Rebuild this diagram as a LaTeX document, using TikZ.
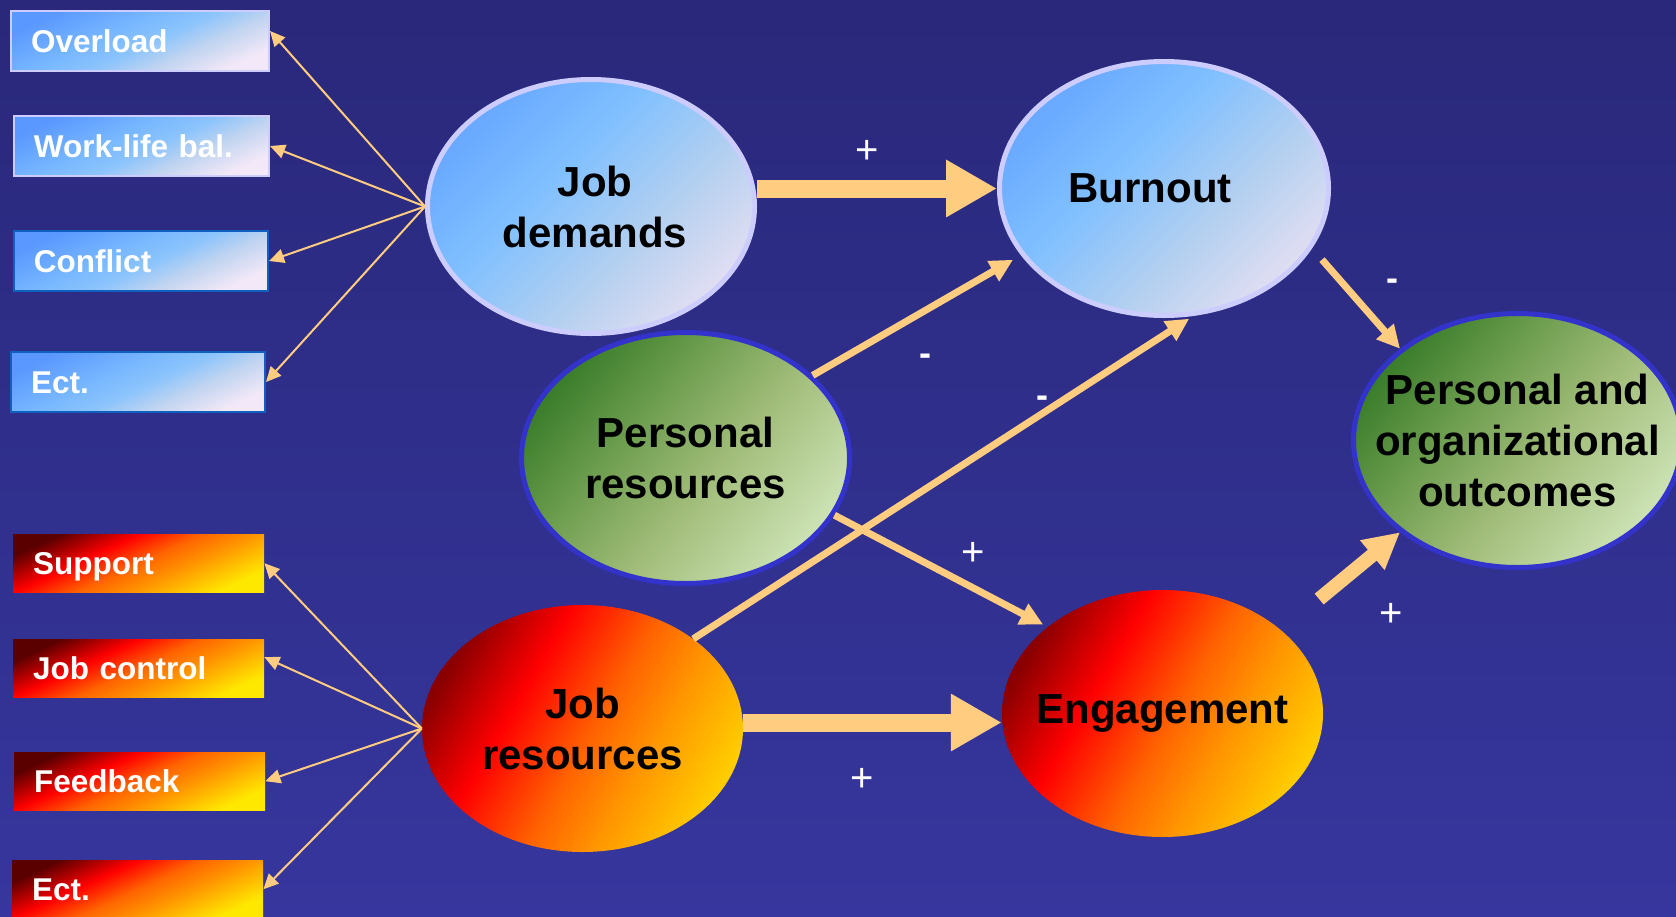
\documentclass[tikz,border=0pt]{standalone}
\usepackage{fontspec}
\setmainfont{Liberation Sans}
\usetikzlibrary{arrows.meta,shapes.geometric}

\definecolor{bgtop}{HTML}{29287A}
\definecolor{bgbot}{HTML}{36369E}
\definecolor{arr}{HTML}{FFCC80}
\definecolor{lav}{HTML}{CCCCFF}
\definecolor{bbord}{HTML}{1060C0}
\definecolor{gbord}{HTML}{3333CC}
% blue
\definecolor{bAz}{HTML}{5A98FF}
\definecolor{bA}{HTML}{68A8FF}
\definecolor{bAy}{HTML}{78B8FF}
\definecolor{bB}{HTML}{80C0FF}
\definecolor{bBy}{HTML}{8CC4FC}
\definecolor{bC}{HTML}{B4D0F0}
\definecolor{bCy}{HTML}{C0D4F0}
\definecolor{bD}{HTML}{E0DEF2}
\definecolor{bE}{HTML}{F2E8F8}
% green
\definecolor{gA}{HTML}{3A7D2A}
\definecolor{gB}{HTML}{6E9E50}
\definecolor{gC}{HTML}{A0BC78}
\definecolor{gD}{HTML}{CCE2B4}
% red
\definecolor{rAz}{HTML}{5A0000}
\definecolor{rAy}{HTML}{A00000}
\definecolor{rA}{HTML}{8A0000}
\definecolor{rB}{HTML}{FF0000}
\definecolor{rC}{HTML}{FF6400}
\definecolor{rD}{HTML}{FF9600}
\definecolor{rE}{HTML}{FFCC00}
\definecolor{rF}{HTML}{FFE800}

\pgfdeclarehorizontalshading{blueell}{100bp}{color(0bp)=(bA); color(25bp)=(bA); color(42bp)=(bB); color(60bp)=(bC); color(75bp)=(bD); color(100bp)=(bD)}
\pgfdeclarehorizontalshading{bluebox}{100bp}{color(0bp)=(bAz); color(25bp)=(bAz); color(42.5bp)=(bAy); color(52.5bp)=(bBy); color(62.5bp)=(bCy); color(75bp)=(bE); color(100bp)=(bE)}
\pgfdeclarehorizontalshading{greenell}{100bp}{color(0bp)=(gA); color(25bp)=(gA); color(40bp)=(gB); color(55bp)=(gC); color(75bp)=(gD); color(100bp)=(gD)}
\pgfdeclarehorizontalshading{redell}{100bp}{color(0bp)=(rA); color(25bp)=(rA); color(38bp)=(rB); color(52bp)=(rC); color(62bp)=(rD); color(75bp)=(rE); color(100bp)=(rE)}
\pgfdeclarehorizontalshading{redbox}{100bp}{color(0bp)=(rAz); color(25bp)=(rAz); color(31bp)=(rAy); color(39bp)=(rB); color(50bp)=(rC); color(60bp)=(rD); color(75bp)=(rF); color(100bp)=(rF)}

\tikzset{
  etext/.style={font=\fontsize{42}{51}\selectfont\bfseries, align=center, text=black},
  ell/.style={ellipse, inner sep=0pt},
  blueE/.style={ell, shade, shading=blueell, shading angle=-45, draw=lav, line width=5pt},
  greenE/.style={ell, shade, shading=greenell, shading angle=-40, draw=gbord, line width=5pt},
  redE/.style={ell, shade, shading=redell, shading angle=-30},
  boxbase/.style={rectangle, anchor=north west, inner xsep=20pt, inner ysep=0pt, align=left,
    text height=22.6pt, text depth=0pt, font=\fontsize{31.5}{36}\selectfont\bfseries, text=white},
  bluebx/.style={boxbase, shade, shading=bluebox, shading angle=-65, line width=2pt, minimum height=60pt},
  redbx/.style={boxbase, shade, shading=redbox, shading angle=-65, minimum height=58pt},
  thinarr/.style={draw=arr, line width=2pt, -{Triangle[length=15pt,width=14pt]}},
  medarr/.style={draw=arr, line width=7pt, -{Triangle[length=23pt,width=22pt]}},
  bigarr/.style={draw=arr, line width=18pt, -{Triangle[length=51pt,width=54pt]}},
  wideArr/.style={draw=arr, line width=14pt, -{Triangle[length=36pt,width=36pt]}},
  plus/.style={text=white, font=\fontsize{40}{40}\selectfont, anchor=base, yshift=-14pt, inner sep=0pt},
  minus/.style={text=white, font=\fontsize{36}{36}\selectfont\bfseries, anchor=base, yshift=-9pt, inner sep=0pt}
}

\begin{document}
\begin{tikzpicture}[x=1pt,y=1pt]
\useasboundingbox (0,0) rectangle (1676,-916);
\clip (0,0) rectangle (1676,-916);
\shade[top color=bgtop, bottom color=bgbot] (0,0) rectangle (1676,-916);

% left boxes (demands)
\node[bluebx, draw=lav, text width=218pt] (ov) at (10,-10) {Overload};
\node[bluebx, draw=lav, text width=215pt] (wl) at (13,-115) {Work-life bal.};
\node[bluebx, draw=bbord, text width=214pt] (cf) at (13,-230) {Conflict};
\node[bluebx, draw=bbord, text width=214pt] (e1) at (10,-351) {Ect.};

% left boxes (resources)
\node[redbx, text width=211pt] (su) at (13,-534) {Support};
\node[redbx, text width=211pt] (jc) at (13,-639) {Job control};
\node[redbx, text width=211pt] (fb) at (14,-752) {Feedback};
\node[redbx, text width=211pt] (e2) at (12,-860) {Ect.};

% ellipses
\node[blueE, minimum width=327pt, minimum height=254pt,
  label={[etext, xshift=4pt]center:{Job\\demands}}] (jd) at (591,-206.5) {};
\node[blueE, minimum width=329pt, minimum height=254pt,
  label={[etext, xshift=-14pt]center:{Burnout}}] (bo) at (1164,-188.5) {};
\node[greenE, minimum width=328pt, minimum height=251pt,
  label={[etext]center:{Personal\\resources}}] (pr) at (685.5,-458) {};
\node[greenE, minimum width=328pt, minimum height=254pt,
  label={[etext]center:{Personal and\\organizational\\outcomes}}] (po) at (1517.5,-440.5) {};
\node[redE, minimum width=321pt, minimum height=247pt,
  label={[etext]center:{Job\\resources}}] (jr) at (582.5,-728.5) {};
\node[redE, minimum width=321pt, minimum height=247pt,
  label={[etext]center:{Engagement}}] (en) at (1162.5,-713.5) {};

% thin arrows to indicator boxes
\draw[thinarr] (jd.west) -- ([yshift=10pt]ov.east);
\draw[thinarr] (jd.west) -- (wl.east);
\draw[thinarr] (jd.west) -- (cf.east);
\draw[thinarr] (jd.west) -- (e1.east);
\draw[thinarr] (jr.west) -- (su.east);
\draw[thinarr] (jr.west) -- ([yshift=11pt]jc.east);
\draw[thinarr] (jr.west) -- (fb.east);
\draw[thinarr] (jr.west) -- (e2.east);

% big arrows
\draw[bigarr] (jd.east |- bo.west) -- (bo.west);
\coordinate (jrs) at ([yshift=6pt]jr.east);
\draw[bigarr] (jrs) -- (jrs -| en.west);

% diagonal arrows
\draw[medarr, shorten >=9pt] (pr.33) -- (bo.205);
\draw[medarr, shorten >=5pt] (jr.39.4) -- (bo.283);
\draw[medarr, shorten >=5pt] (pr.339) -- (en.143.7);
\draw[medarr, shorten <=15pt] (bo.338) -- (po.142.2);
\draw[wideArr, shorten <=49pt] (en.35.2) -- (po.218.5);

% signs
\node[plus] (p1) at (867,-149) {+};
\node[minus] (m1) at (925,-356) {-};
\node[minus] (m2) at (1042,-398) {-};
\node[plus] (p2) at (973,-551) {+};
\node[plus] (p3) at (862,-777) {+};
\node[minus] (m3) at (1392,-281) {-};
\node[plus] (p4) at (1391,-612) {+};
\end{tikzpicture}
\end{document}
